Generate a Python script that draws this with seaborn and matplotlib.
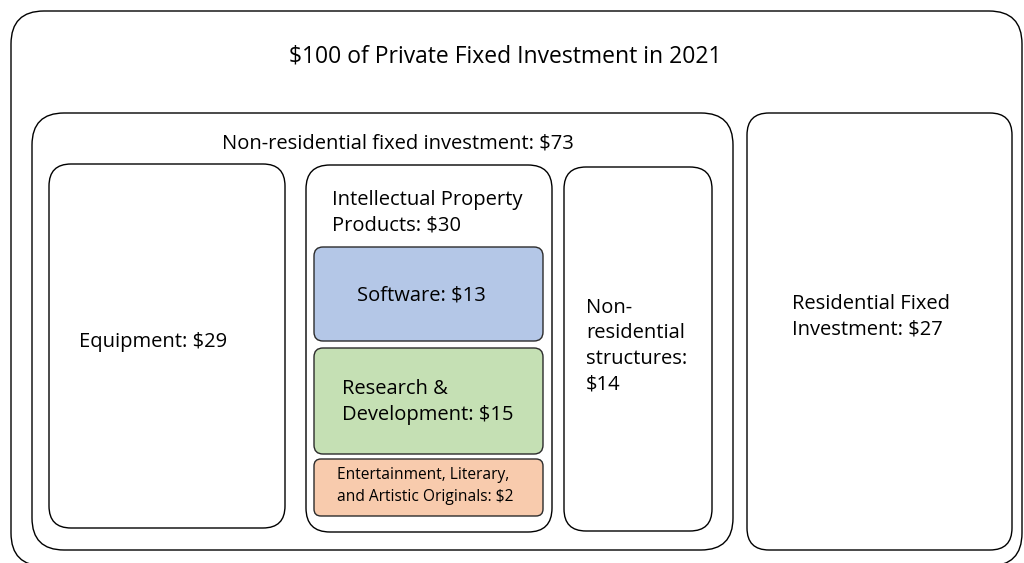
import matplotlib
matplotlib.use("Agg")
import matplotlib.pyplot as plt
from matplotlib.patches import FancyBboxPatch
import seaborn as sns

sns.set_theme(style="white")
plt.rcParams['font.family'] = ['Open Sans', 'DejaVu Sans']

# data: labels and dollar amounts (per $100 of investment)
title = "$100 of Private Fixed Investment in 2021"
categories = ["Non-residential fixed investment", "Equipment", "Intellectual Property Products",
              "Software", "Research & Development", "Entertainment, Literary, and Artistic Originals",
              "Non-residential structures", "Residential Fixed Investment"]
values = [73, 29, 30, 13, 15, 2, 14, 27]

# label text as laid out in the diagram
labels = [
    "Non-residential fixed investment: ${}",
    "Equipment: ${}",
    "Intellectual Property\nProducts: ${}",
    "Software: ${}",
    "Research &\nDevelopment: ${}",
    "Entertainment, Literary,\nand Artistic Originals: ${}",
    "Non-\nresidential\nstructures:\n${}",
    "Residential Fixed\nInvestment: ${}",
]

# layout (pixel coords): x0, y0, x1, y1, radius
boxes = [
    (32, 113, 733, 550, 32),
    (49, 164, 285, 528, 22),
    (306, 165, 552, 532, 24),
    (314, 247, 543, 341, 9),
    (314, 348, 543, 454, 9),
    (314, 459, 543, 516, 7),
    (564, 167, 712, 531, 22),
    (747, 113, 1012, 550, 22),
]
fills = ["white", "white", "white", "#B4C7E7", "#C5E0B4", "#F8CBAD", "white", "white"]
edges = ["black", "black", "black", "#2b2b2b", "#2b2b2b", "#2b2b2b", "black", "black"]
# text anchor x, y, ha, size
text_pos = [
    (398, 143, "center", 14.5),
    (79, 342, "left", 14.5),
    (332, 213, "left", 14.5),
    (357, 295, "left", 14.5),
    (342, 402, "left", 14.5),
    (337, 486, "left", 11.2),
    (586, 346, "left", 14.5),
    (792, 317, "left", 14.5),
]

fig = plt.figure(figsize=(10.24, 5.63), dpi=100)
ax = fig.add_axes([0, 0, 1, 1])
ax.set_xlim(0, 1024)
ax.set_ylim(563, 0)
ax.axis("off")

# outer frame
ax.add_patch(FancyBboxPatch((11, 11), 1011, 555,
                            boxstyle="round,pad=0,rounding_size=33",
                            fc="white", ec="black", lw=1.0))
ax.text(505, 57, title, ha="center", va="center", fontsize=16.5, color="black")

for (x0, y0, x1, y1, r), fc, ec, lab, val, (tx, ty, ha, fs) in zip(
        boxes, fills, edges, labels, values, text_pos):
    ax.add_patch(FancyBboxPatch((x0, y0), x1 - x0, y1 - y0,
                                boxstyle=f"round,pad=0,rounding_size={r}",
                                fc=fc, ec=ec, lw=1.0))
    ax.text(tx, ty, lab.format(val), ha=ha, va="center", fontsize=fs,
            color="black", linespacing=1.37 if fs > 12 else 1.5)

fig.savefig("out.png", dpi=100)
